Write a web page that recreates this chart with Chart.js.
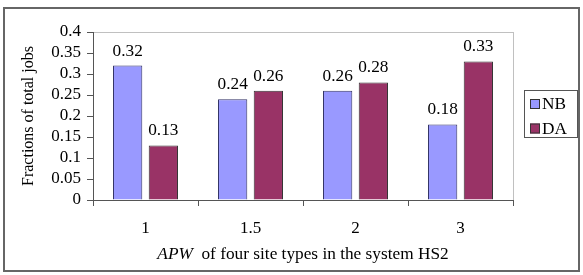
<!DOCTYPE html>
<html>
<head>
<meta charset="utf-8">
<script src="https://cdn.jsdelivr.net/npm/chart.js@4.4.1/dist/chart.umd.min.js"></script>
<style>
  html, body { margin: 0; padding: 0; background: #fff; }
  #wrap { width: 583px; height: 275px; }
</style>
</head>
<body>
<div id="wrap"><canvas id="grafico" width="583" height="275"></canvas></div>
<script>
// data
const categories = ['1', '1.5', '2', '3'];
const seriesNames = ['NB', 'DA'];
const nbValues = [0.32, 0.24, 0.26, 0.18];
const daValues = [0.13, 0.26, 0.28, 0.33];
const yTicks = [0, 0.05, 0.1, 0.15, 0.2, 0.25, 0.3, 0.35, 0.4];

const FONT = '"Liberation Serif", "Times New Roman", serif';
const FS = 16;
const nbColor = '#9999FF';
const daColor = '#993366';

// text is a bit wider in the reference
function wideText(c, txt, x, y, align) {
  const sx = 1.08;
  const w = c.measureText(txt).width * sx;
  let left = x;
  if (align === 'center') left = x - w / 2;
  c.save();
  c.translate(left, y);
  c.scale(sx, 1);
  c.textAlign = 'left';
  c.fillText(txt, 0, 0);
  c.restore();
  return w;
}

// white page, outer frame, plot border
const frame = {
  id: 'frame',
  beforeDraw(chart) {
    const c = chart.ctx;
    c.save();
    c.fillStyle = '#fff';
    c.fillRect(0, 0, chart.width, chart.height);
    const a = chart.chartArea;
    c.strokeStyle = '#c0c0c0';
    c.lineWidth = 1;
    c.strokeRect(a.left + 0.5, a.top + 0.5, a.right - a.left, a.bottom - a.top);
    c.restore();
  },
  afterDraw(chart) {
    const c = chart.ctx;
    const a = chart.chartArea;
    c.save();
    // outer frame
    c.strokeStyle = '#666';
    c.lineWidth = 2;
    c.strokeRect(4, 8, 575, 263);

    // value labels
    c.fillStyle = '#000';
    c.font = FS + 'px ' + FONT;
    c.textBaseline = 'alphabetic';
    chart.data.datasets.forEach((ds, i) => {
      chart.getDatasetMeta(i).data.forEach((bar, j) => {
        wideText(c, ds.data[j].toFixed(2), bar.x, bar.y - 10, 'center');
      });
    });

    // y title
    c.save();
    c.translate(33, (a.top + a.bottom) / 2);
    c.rotate(-Math.PI / 2);
    c.textAlign = 'center';
    c.fillText('Fractions of total jobs', 0, 0);
    c.restore();

    // x title with italic APW
    const p1 = 'APW';
    const p2 = '  of four site types in the system HS2';
    c.font = 'italic ' + FS + 'px ' + FONT;
    const w1 = c.measureText(p1).width * 1.08;
    c.font = FS + 'px ' + FONT;
    const w2 = c.measureText(p2).width * 1.08;
    const x0 = (a.left + a.right) / 2 - (w1 + w2) / 2;
    c.font = 'italic ' + FS + 'px ' + FONT;
    wideText(c, p1, x0, 259, 'left');
    c.font = FS + 'px ' + FONT;
    wideText(c, p2, x0 + w1, 259, 'left');

    // legend
    c.strokeStyle = '#555';
    c.lineWidth = 1;
    c.strokeRect(524.5, 90.5, 53, 47);
    const cols = [nbColor, daColor];
    const ys = [104, 128.5];
    c.textBaseline = 'middle';
    seriesNames.forEach((n, i) => {
      c.fillStyle = cols[i];
      c.fillRect(530, ys[i] - 5, 10, 10);
      c.strokeStyle = '#333';
      c.strokeRect(530.5, ys[i] - 4.5, 9, 9);
      c.fillStyle = '#000';
      wideText(c, n, 542, ys[i] + 1, 'left');
    });
    c.restore();
  }
};

const data = {
  labels: categories,
  datasets: [
    {
      label: seriesNames[0],
      data: nbValues,
      backgroundColor: nbColor,
      borderColor: '#333366',
      borderWidth: 1
    },
    {
      label: seriesNames[1],
      data: daValues,
      backgroundColor: daColor,
      borderColor: '#333',
      borderWidth: 1
    }
  ]
};

const config = {
  type: 'bar',
  data,
  options: {
    responsive: false,
    animation: false,
    layout: { padding: { left: 0, top: 32, right: 70, bottom: 0 } },
    datasets: {
      bar: { categoryPercentage: 0.68, barPercentage: 0.82 }
    },
    plugins: {
      legend: { display: false },
      tooltip: { enabled: false }
    },
    scales: {
      x: {
        grid: { drawOnChartArea: false, drawTicks: true, tickLength: 6, color: '#555', offset: true },
        border: { color: '#555' },
        ticks: { color: '#000', font: { family: FONT, size: FS + 1 }, padding: 12 },
        afterFit(s) { s.height = 75; }
      },
      y: {
        min: 0,
        max: 0.4,
        afterBuildTicks(s) { s.ticks = yTicks.map(v => ({ value: v })); },
        grid: { drawOnChartArea: false, drawTicks: true, tickLength: 6, color: '#555' },
        border: { color: '#555' },
        ticks: {
          autoSkip: false,
          color: '#000',
          font: { family: FONT, size: FS + 1 },
          padding: 6,
          callback: v => String(Number(v.toFixed(2)))
        },
        afterFit(s) { s.width = 93; }
      }
    }
  },
  plugins: [frame]
};

const myChart = new Chart(document.getElementById('grafico'), config);
</script>
</body>
</html>
